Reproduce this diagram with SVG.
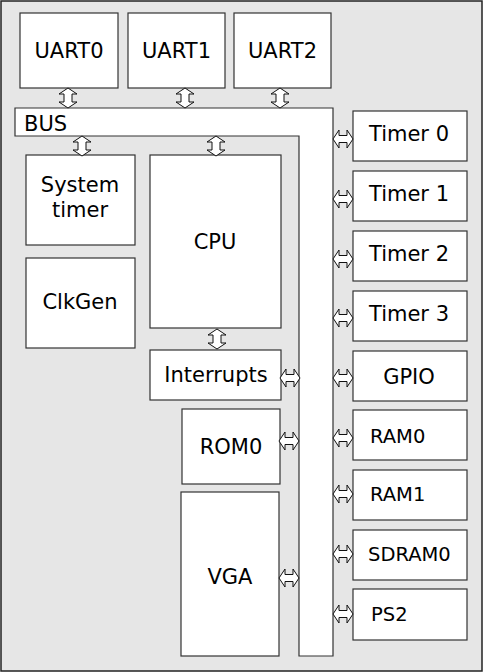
<svg xmlns="http://www.w3.org/2000/svg" xmlns:xlink="http://www.w3.org/1999/xlink" width="483" height="672" viewBox="0 0 483 672">
<style>
.bg{fill:#e6e6e6;stroke:#222;stroke-width:1.5}
.box{fill:#fff;stroke:#333;stroke-width:1.2}
.arr{fill:#fff;stroke:#111;stroke-width:1}
text{font-family:"DejaVu Sans",sans-serif;font-size:21px;fill:#000;text-anchor:middle}
text.sm{font-size:19.500px;text-anchor:start}
</style>
<defs>
<path id="va" d="M0,-10 L9,-4 L4,-4 L4,4 L9,4 L0,10 L-9,4 L-4,4 L-4,-4 L-9,-4 Z"/>
<path id="ha" d="M-10,0 L-4,-9 L-4,-3.500 L4,-3.500 L4,-9 L10,0 L4,9 L4,3.500 L-4,3.500 L-4,9 Z"/>
</defs>
<rect class="bg" x="1" y="1" width="481" height="670"/>
<g id="bus"><path class="box" d="M15,108 H333 V656 H299 V136 H15 Z"/><text x="24" y="131" style="text-anchor:start">BUS</text></g>
<g id="uart0"><rect class="box" x="20" y="13" width="98" height="75"/><text x="69" y="58">UART0</text></g>
<g id="uart1"><rect class="box" x="128" y="13" width="97" height="75"/><text x="176.500" y="58">UART1</text></g>
<g id="uart2"><rect class="box" x="234" y="13" width="97" height="75"/><text x="282.500" y="58">UART2</text></g>
<g id="systimer"><rect class="box" x="26" y="155" width="109" height="90"/><text x="80" y="192">System</text><text x="80" y="217">timer</text></g>
<g id="clkgen"><rect class="box" x="26" y="258" width="109" height="90"/><text x="80" y="309">ClkGen</text></g>
<g id="cpu"><rect class="box" x="150" y="155" width="131" height="173"/><text x="215" y="249">CPU</text></g>
<g id="interrupts"><rect class="box" x="150" y="350" width="131" height="50"/><text x="216" y="382">Interrupts</text></g>
<g id="rom0"><rect class="box" x="182" y="409" width="98" height="75"/><text x="231" y="454">ROM0</text></g>
<g id="vga"><rect class="box" x="181" y="492" width="98" height="164"/><text x="230" y="584">VGA</text></g>
<g id="timer0"><rect class="box" x="353" y="111" width="114" height="50"/><text x="409" y="141">Timer 0</text></g>
<g id="timer1"><rect class="box" x="353" y="171" width="114" height="50"/><text x="409" y="201">Timer 1</text></g>
<g id="timer2"><rect class="box" x="353" y="231" width="114" height="50"/><text x="409" y="261">Timer 2</text></g>
<g id="timer3"><rect class="box" x="353" y="291" width="114" height="50"/><text x="409" y="321">Timer 3</text></g>
<g id="gpio"><rect class="box" x="353" y="351" width="114" height="50"/><text x="409" y="384">GPIO</text></g>
<g id="ram0"><rect class="box" x="353" y="410" width="114" height="50"/><text class="sm" x="370" y="443">RAM0</text></g>
<g id="ram1"><rect class="box" x="353" y="470" width="114" height="50"/><text class="sm" x="370" y="501">RAM1</text></g>
<g id="sdram0"><rect class="box" x="353" y="530" width="114" height="50"/><text class="sm" x="368" y="561">SDRAM0</text></g>
<g id="ps2"><rect class="box" x="353" y="589" width="114" height="51"/><text class="sm" x="371" y="621">PS2</text></g>
<g id="connectors" class="arr">
<use xlink:href="#va" x="68" y="98"/>
<use xlink:href="#va" x="185" y="98"/>
<use xlink:href="#va" x="280" y="98"/>
<use xlink:href="#va" x="82" y="146"/>
<use xlink:href="#va" x="216" y="146"/>
<use xlink:href="#va" x="217" y="339"/>
<use xlink:href="#ha" x="343" y="139"/>
<use xlink:href="#ha" x="343" y="199"/>
<use xlink:href="#ha" x="343" y="259"/>
<use xlink:href="#ha" x="343" y="318"/>
<use xlink:href="#ha" x="343" y="378"/>
<use xlink:href="#ha" x="343" y="438"/>
<use xlink:href="#ha" x="343" y="494"/>
<use xlink:href="#ha" x="343" y="554"/>
<use xlink:href="#ha" x="343" y="614"/>
<use xlink:href="#ha" x="290" y="378"/>
<use xlink:href="#ha" x="289" y="441"/>
<use xlink:href="#ha" x="289" y="578"/>
</g>
</svg>
